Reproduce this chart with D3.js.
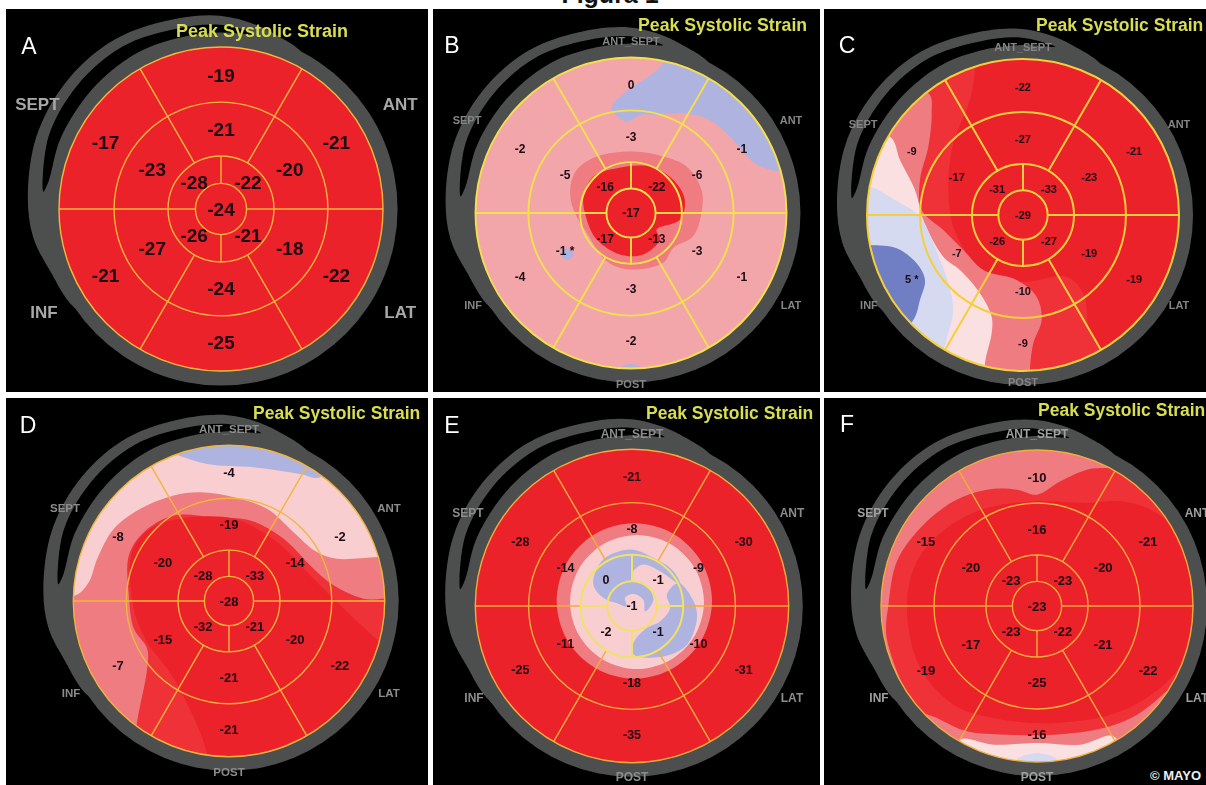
<!DOCTYPE html>
<html>
<head>
<meta charset="utf-8">
<style>
  html, body { margin: 0; padding: 0; background: #fff; overflow: hidden; }
  text { font-family: "Liberation Sans", Arial, sans-serif; }
</style>
<script src="https://cdn.jsdelivr.net/npm/d3@7"></script>
</head>
<body>
<script>
const panelNames = ['A', 'B', 'C', 'D', 'E', 'F'];
const titleText = 'Peak Systolic Strain';
const figureText = 'Figura 1';
const creditText = '© MAYO';

// Segment values, clockwise from the top of each ring
const basalValues = [
  ['-19', '-21', '-22', '-25', '-21', '-17'],
  ['0', '-1', '-1', '-2', '-4', '-2'],
  ['-22', '-21', '-19', '-9', '5 *', '-9'],
  ['-4', '-2', '-22', '-21', '-7', '-8'],
  ['-21', '-30', '-31', '-35', '-25', '-28'],
  ['-10', '-21', '-22', '-16', '-19', '-15'],
];
const midValues = [
  ['-21', '-20', '-18', '-24', '-27', '-23'],
  ['-3', '-6', '-3', '-3', '-1 *', '-5'],
  ['-27', '-23', '-19', '-10', '-7', '-17'],
  ['-19', '-14', '-20', '-21', '-15', '-20'],
  ['-8', '-9', '-10', '-18', '-11', '-14'],
  ['-16', '-20', '-21', '-25', '-17', '-20'],
];
const innerValues = [
  ['-22', '-21', '-26', '-28'],
  ['-22', '-13', '-17', '-16'],
  ['-33', '-27', '-26', '-31'],
  ['-33', '-21', '-32', '-28'],
  ['-1', '-1', '-2', '0'],
  ['-23', '-22', '-23', '-23'],
];
const apexValues = ['-24', '-17', '-29', '-28', '-1', '-23'];

// Wall names around the disc
const wallNames = ['ANT_SEPT', 'SEPT', 'ANT', 'INF', 'LAT', 'POST'];

// Strain bands painted in the maps
const strainBands = [-20, -16, -10, -3, -2, -1, 0, 2, 5];
const bandColors = ['#ec2129', '#ee3039', '#ee7b80', '#f2a6aa', '#f8ced1', '#fbe0e1', '#aeb3e0', '#d5daf1', '#6f7fc3'];

// Background band of each disc
const baseBands = [-20, -3, -20, -10, -20, -10];

// Contours: [strain band, outline], outline points are
// offsets from the disc centre where 468 is the disc radius
const contoursA = [];
const contoursB = [
  [0, [[97, -450], [37, -400], [-23, -360], [-58, -315], [-13, -275], [27, -295], [77, -295], [157, -300], [237, -280], [297, -230], [332, -190], [372, -150], [457, -130], [497, -240], [297, -510], [117, -510]]],
  [-10, [[-183, -70], [-163, -130], [-103, -170], [7, -185], [97, -170], [167, -140], [212, -70], [212, 0], [187, 70], [127, 105], [97, 150], [-3, 170], [-73, 145], [-133, 60], [-173, -10]]],
  [-20, [[-143, -50], [-113, -110], [-43, -135], [57, -140], [127, -100], [162, -40], [147, 20], [77, 50], [87, 80], [37, 125], [-33, 125], [-103, 80], [-133, 20]]],
  [0, [[-210, 110], [-190, 108], [-172, 120], [-185, 140], [-205, 135]]],
  [0, [[-30, 465], [0, 455], [30, 465], [0, 490]]],
];
const contoursC = [
  [-16, [[-144, -435], [-159, -345], [-209, -215], [-224, -85], [-209, 35], [-159, 125], [-89, 185], [11, 200], [131, 185], [181, 235], [201, 355], [231, 395], [231, 520], [-520, 520], [-520, -520], [-144, -520]]],
  [-10, [[-284, -365], [-274, -305], [-284, -205], [-309, -105], [-304, -15], [-239, 45], [-179, 105], [-119, 165], [-19, 195], [41, 245], [56, 315], [31, 385], [21, 460], [21, 540], [-540, 540], [-540, -365]]],
  [-1, [[-399, -235], [-369, -165], [-324, -75], [-299, 15], [-239, 125], [-189, 165], [-129, 235], [-94, 305], [-94, 355], [-114, 445], [-114, 540], [-540, 540], [-540, -235]]],
  [2, [[-459, -85], [-384, -45], [-309, 5], [-269, 85], [-224, 205], [-209, 285], [-224, 355], [-234, 390], [-300, 520], [-540, 520], [-540, -85]]],
  [5, [[-459, 90], [-379, 100], [-319, 145], [-294, 195], [-309, 255], [-329, 315], [-420, 400], [-540, 300], [-540, 90]]],
];
const contoursD = [
  [-2, [[-461, -17], [-421, -57], [-396, -127], [-346, -217], [-266, -277], [-166, -317], [-86, -327], [14, -312], [114, -277], [194, -207], [264, -147], [324, -127], [449, -132], [560, -132], [560, -560], [-560, -560], [-560, -17]]],
  [0, [[-166, -442], [-66, -412], [74, -402], [214, -382], [274, -372], [330, -480], [0, -560], [-300, -480]]],
  [-16, [[-276, 363], [-246, 203], [-246, 143], [-286, 83], [-301, -17], [-301, -137], [-256, -207], [-166, -257], [-46, -252], [64, -242], [164, -187], [244, -107], [314, -47], [404, -7], [500, 0], [560, 100], [560, 560], [-300, 560]]],
  [-20, [[-66, 458], [-166, 233], [-246, 123], [-286, 23], [-291, -147], [-236, -217], [-146, -247], [14, -247], [144, -177], [234, -87], [324, 3], [454, 123], [560, 200], [560, 560], [-66, 560]]],
];
const contoursE = [
  [-10, [[239, -15], [208, 101], [123, 186], [7, 217], [-109, 186], [-194, 101], [-225, -15], [-194, -131], [-109, -216], [7, -247], [123, -216], [208, -131]]],
  [-2, [[215, -12], [188, 88], [115, 161], [15, 188], [-85, 161], [-158, 88], [-185, -12], [-158, -112], [-85, -185], [15, -212], [115, -185], [188, -112]]],
  [0, [[-116, -74], [-86, -139], [-6, -169], [64, -144], [124, -104], [144, -64], [84, -104], [34, -124], [4, -104], [-1, -79], [44, -59], [64, -19], [39, 16], [34, -19], [4, -36], [-21, -24], [-16, 1], [-46, -9], [-76, -19], [-106, -44]]],
  [0, [[139, -69], [184, -14], [194, 36], [164, 116], [94, 151], [4, 144], [4, 111], [44, 66], [84, 46], [114, 6], [104, -34]]],
];
const contoursF = [
  [-16, [[-445, -9], [-420, -134], [-350, -234], [-250, -314], [-150, -349], [-60, -349], [0, -334], [70, -374], [150, -409], [220, -414], [540, -400], [560, 100], [400, 246], [300, 326], [200, 366], [50, 386], [-90, 386], [-210, 376], [-300, 336], [-360, 306], [-450, 100]]],
  [-20, [[-390, 6], [-360, -134], [-270, -234], [-150, -294], [0, -314], [150, -309], [250, -314], [350, -284], [450, -184], [470, 66], [410, 206], [250, 316], [50, 351], [-130, 336], [-250, 296], [-350, 186]]],
  [-1, [[-230, 401], [-130, 416], [0, 411], [130, 416], [230, 391], [260, 480], [-230, 480]]],
  [2, [[-60, 461], [0, 441], [60, 461], [0, 490]]],
];
const panelContours = [contoursA, contoursB, contoursC, contoursD, contoursE, contoursF];

// Grey tail of the shell behind each disc, same units as the contours
const shellTail = [[-300, 340], [-423, 285], [-493, 180], [-543, 80], [-558, -40], [-533, -210], [-453, -360], [-323, -480], [-173, -540], [-3, -558], [147, -510], [250, -420], [0, -200], [-150, 100]];
const shellGap = [[-513, -50], [-498, -210], [-413, -360], [-283, -470], [-133, -520], [-3, -532], [97, -505], [-3, -510], [-133, -492], [-253, -445], [-373, -345], [-463, -205], [-498, -80]];

const Layout = {
  width: 1206,
  height: 785,
  ringFractions: [1, 0.66, 0.327, 0.158],
  basalLabelR: 0.823,
  midLabelR: 0.49,
  innerLabelR: 0.235,
  shellColor: '#4e4f50',
  shellR: 1.09,
  titleColor: '#d8de50',

  panels: [
    { x: 6, y: 9, w: 422, h: 383, cx: 221, cy: 209, r: 162, valueSize: 19, line: '#f5b73a', lineWidth: 1.4, labelSize: 17, labelColor: '#a8a8a8', labelScale: 1.12, walls: ['SEPT', 'ANT', 'INF', 'LAT'], titleX: 176, titleY: 37, titleSize: 18, letterX: 29, letterY: 54 },
    { x: 433, y: 9, w: 387, h: 383, cx: 631, cy: 213, r: 155.5, valueSize: 12, line: '#f4e04e', lineWidth: 1.9, labelSize: 11, labelColor: '#858585', labelScale: 1, walls: wallNames, titleX: 638, titleY: 31, titleSize: 17.7, letterX: 452, letterY: 53 },
    { x: 824, y: 9, w: 382, h: 383, cx: 1023, cy: 215, r: 156, valueSize: 11, line: '#f4cf3e', lineWidth: 2, labelSize: 11, labelColor: '#858585', labelScale: 0.975, walls: wallNames, titleX: 1036, titleY: 31, titleSize: 17.5, letterX: 847, letterY: 53 },
    { x: 6, y: 398, w: 422, h: 387, cx: 229, cy: 601, r: 155.7, valueSize: 13, line: '#f3b63a', lineWidth: 1.4, labelSize: 11.5, labelColor: '#8c8c8c', labelScale: 1, walls: wallNames, titleX: 253, titleY: 419, titleSize: 17.5, letterX: 28, letterY: 433 },
    { x: 433, y: 398, w: 387, h: 387, cx: 632, cy: 606, r: 156.7, valueSize: 12.5, line: '#f3ad3a', lineWidth: 1.4, innerLine: '#f0e268', innerWidth: 2, labelSize: 12, labelColor: '#8c8c8c', labelScale: 1, walls: wallNames, titleX: 646, titleY: 419, titleSize: 17.5, letterX: 452, letterY: 433 },
    { x: 824, y: 398, w: 382, h: 387, cx: 1037, cy: 606, r: 156, valueSize: 13, line: '#f3ad3a', lineWidth: 1.4, labelSize: 12, labelColor: '#a0a0a0', labelScale: 1, walls: wallNames, titleX: 1038, titleY: 416, titleSize: 17.5, letterX: 847, letterY: 432 },
  ],

  wallOffsets: {
    ANT_SEPT: [0, -172],
    SEPT: [-164, -93],
    ANT: [160, -93],
    INF: [-158, 92],
    LAT: [160, 92],
    POST: [0, 171],
  },
};

const bandColor = d3.scaleOrdinal().domain(strainBands).range(bandColors);
const toRad = d => (d * Math.PI) / 180;

const svg = d3
  .select('body')
  .append('svg')
  .attr('width', Layout.width)
  .attr('height', Layout.height)
  .style('display', 'block');

const defs = svg.append('defs');
defs
  .append('filter')
  .attr('id', 'soft')
  .attr('x', '-5%')
  .attr('y', '-5%')
  .attr('width', '110%')
  .attr('height', '110%')
  .append('feGaussianBlur')
  .attr('stdDeviation', 0.55);

svg
  .append('text')
  .attr('x', 610)
  .attr('y', 3)
  .attr('text-anchor', 'middle')
  .attr('font-size', 25)
  .attr('font-weight', 'bold')
  .attr('fill', '#111')
  .text(figureText);

function drawPanel(layout, i) {
  const x = d3.scaleLinear().domain([-468, 468]).range([-layout.r, layout.r]);
  const y = d3.scaleLinear().domain([-468, 468]).range([-layout.r, layout.r]);
  const blob = d3
    .line()
    .x(p => x(p[0]))
    .y(p => y(p[1]))
    .curve(d3.curveCatmullRomClosed.alpha(0.5));
  const ringR = f => f * layout.r;

  const panel = svg.append('g').attr('filter', 'url(#soft)');

  panel
    .append('rect')
    .attr('x', layout.x)
    .attr('y', layout.y)
    .attr('width', layout.w)
    .attr('height', layout.h)
    .attr('fill', '#000');

  const disc = panel.append('g').attr('transform', `translate(${layout.cx}, ${layout.cy})`);

  // Grey shell and the black gap of its tail
  disc.append('circle').attr('r', ringR(Layout.shellR)).attr('fill', Layout.shellColor);
  disc.append('path').attr('d', blob(shellTail)).attr('fill', Layout.shellColor);
  disc.append('path').attr('d', blob(shellGap)).attr('fill', '#000');

  // Strain map
  defs
    .append('clipPath')
    .attr('id', `disc-${panelNames[i]}`)
    .append('circle')
    .attr('r', layout.r);

  const map = disc.append('g').attr('clip-path', `url(#disc-${panelNames[i]})`);
  map.append('circle').attr('r', layout.r).attr('fill', bandColor(baseBands[i]));
  map
    .selectAll('.contour')
    .data(panelContours[i])
    .enter()
    .append('path')
    .attr('class', 'contour')
    .attr('d', c => blob(c[1]))
    .attr('fill', c => bandColor(c[0]));

  // Rings and spokes, the central ones can have their own colour
  const innerF = Layout.ringFractions[2];
  const apexF = Layout.ringFractions[3];
  const strokeOf = f => (f <= innerF && layout.innerLine ? layout.innerLine : layout.line);
  const widthOf = f => (f <= innerF && layout.innerLine ? layout.innerWidth : layout.lineWidth);

  const spokes = [
    ...[30, 90, 150, 210, 270, 330].map(a => ({ a, from: innerF, to: 1 })),
    ...[0, 90, 180, 270].map(a => ({ a, from: apexF, to: innerF })),
  ];

  disc
    .selectAll('.spoke')
    .data(spokes)
    .enter()
    .append('line')
    .attr('class', 'spoke')
    .attr('x1', s => d3.pointRadial(toRad(s.a), ringR(s.from))[0])
    .attr('y1', s => d3.pointRadial(toRad(s.a), ringR(s.from))[1])
    .attr('x2', s => d3.pointRadial(toRad(s.a), ringR(s.to))[0])
    .attr('y2', s => d3.pointRadial(toRad(s.a), ringR(s.to))[1])
    .attr('stroke', s => strokeOf(s.to))
    .attr('stroke-width', s => widthOf(s.to));

  disc
    .selectAll('.ring')
    .data(Layout.ringFractions)
    .enter()
    .append('circle')
    .attr('class', 'ring')
    .attr('r', ringR)
    .attr('fill', 'none')
    .attr('stroke', strokeOf)
    .attr('stroke-width', widthOf);

  // Segment values
  const values = [
    ...basalValues[i].map((v, k) => ({ v, a: k * 60, r: Layout.basalLabelR })),
    ...midValues[i].map((v, k) => ({ v, a: k * 60, r: Layout.midLabelR })),
    ...innerValues[i].map((v, k) => ({ v, a: 45 + k * 90, r: Layout.innerLabelR })),
    { v: apexValues[i], a: 0, r: 0 },
  ];

  disc
    .selectAll('.value')
    .data(values)
    .enter()
    .append('text')
    .attr('class', 'value')
    .attr('x', d => d3.pointRadial(toRad(d.a), ringR(d.r))[0])
    .attr('y', d => d3.pointRadial(toRad(d.a), ringR(d.r))[1])
    .attr('text-anchor', 'middle')
    .attr('dominant-baseline', 'central')
    .attr('font-size', layout.valueSize)
    .attr('font-weight', 'bold')
    .attr('fill', '#1c0a12')
    .text(d => d.v);

  // Wall names
  disc
    .selectAll('.wall')
    .data(layout.walls)
    .enter()
    .append('text')
    .attr('class', 'wall')
    .attr('x', w => Layout.wallOffsets[w][0] * layout.labelScale)
    .attr('y', w => Layout.wallOffsets[w][1] * (layout.labelScale > 1 ? 1.125 : layout.labelScale))
    .attr('text-anchor', 'middle')
    .attr('dominant-baseline', 'central')
    .attr('font-size', layout.labelSize)
    .attr('font-weight', 'bold')
    .attr('fill', layout.labelColor)
    .text(w => w);

  panel
    .append('text')
    .attr('x', layout.titleX)
    .attr('y', layout.titleY)
    .attr('font-size', layout.titleSize)
    .attr('font-weight', 'bold')
    .attr('fill', Layout.titleColor)
    .text(titleText);

  panel
    .append('text')
    .attr('x', layout.letterX)
    .attr('y', layout.letterY)
    .attr('text-anchor', 'middle')
    .attr('font-size', 23)
    .style('font-family', '"Liberation Sans Narrow", "Liberation Sans", sans-serif')
    .attr('fill', '#fff')
    .text(panelNames[i]);
}

Layout.panels.forEach(drawPanel);

svg
  .append('text')
  .attr('x', 1150)
  .attr('y', 780)
  .attr('font-size', 13)
  .attr('font-weight', 'bold')
  .attr('fill', '#eee')
  .text(creditText);
</script>
</body>
</html>
